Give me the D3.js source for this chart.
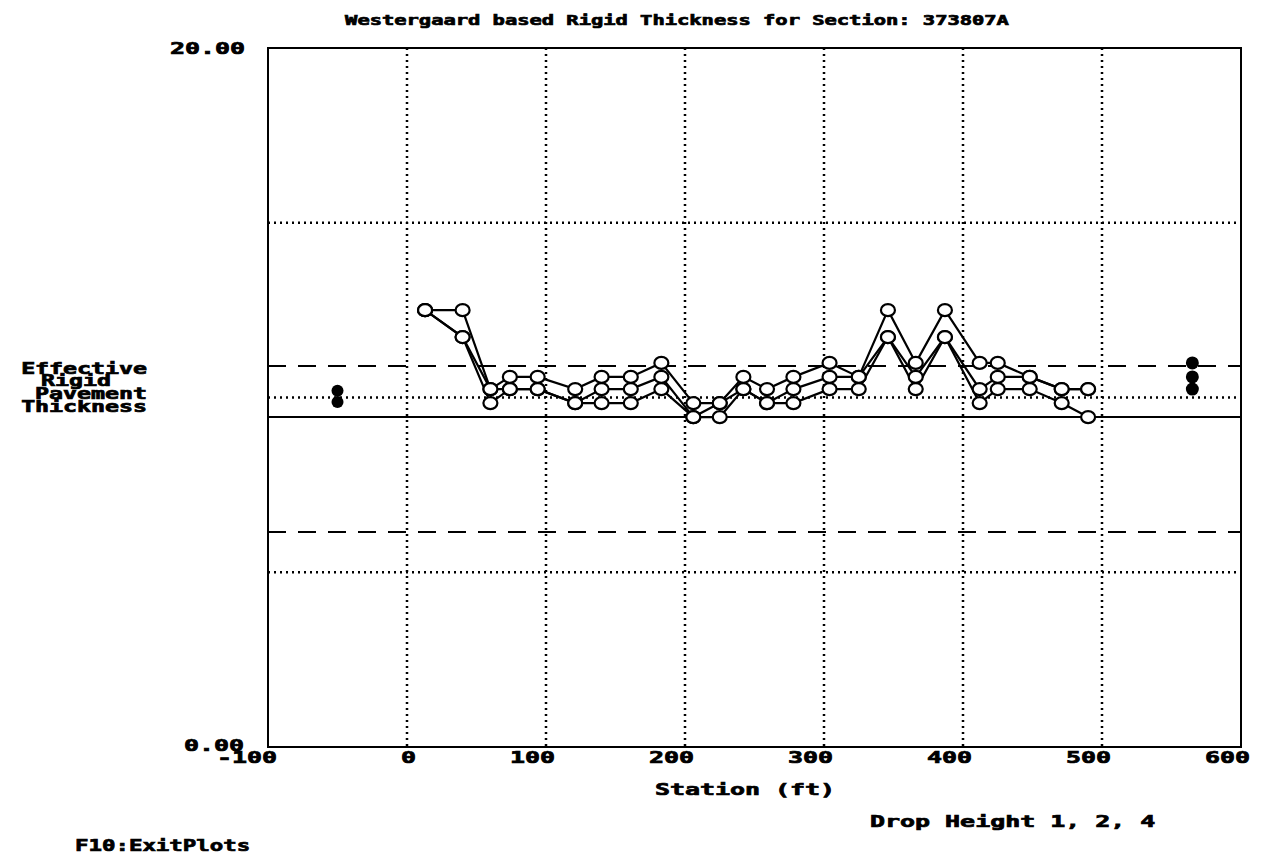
<!DOCTYPE html>
<html>
<head>
<meta charset="utf-8">
<script src="https://cdn.jsdelivr.net/npm/d3@7"></script>
<style>
  body { margin: 0; background: #fff; }
  text { font-family: "DejaVu Sans Mono", monospace; font-weight: bold; fill: #000; stroke: #000; stroke-width: 0.7px; }
</style>
</head>
<body>
<svg id="chart"></svg>
<script>
let svgWidth = 1268, svgHeight = 857

// stations in ft, thickness in inches (one array per drop height)
let stations = [13, 40, 60, 74, 94, 121, 140, 161, 183, 206, 225, 242, 259, 278, 304, 325, 346, 366, 387, 412, 425, 448, 471, 490]
let drop1 = [12.50, 12.50, 10.24, 10.59, 10.59, 10.24, 10.59, 10.59, 10.99, 9.84, 9.84, 10.59, 10.24, 10.59, 10.99, 10.59, 12.50, 10.99, 12.50, 10.99, 10.99, 10.59, 10.24, 10.24]
let drop2 = [12.50, 11.73, 10.24, 10.24, 10.24, 9.84, 10.24, 10.24, 10.59, 9.44, 9.84, 10.24, 9.84, 10.24, 10.59, 10.59, 11.73, 10.59, 11.73, 10.24, 10.59, 10.59, 10.24, 10.24]
let drop4 = [12.50, 11.73, 9.84, 10.24, 10.24, 9.84, 9.84, 9.84, 10.24, 9.44, 9.44, 10.24, 9.84, 9.84, 10.24, 10.24, 11.73, 10.24, 11.73, 9.84, 10.24, 10.24, 9.84, 9.44]

// summary markers drawn outside the data range
let leftStation = -50, leftValues = [10.19, 9.87]
let rightStation = 565, rightValues = [10.99, 10.59, 10.24]

let xTicks = [-100, 0, 100, 200, 300, 400, 500, 600]
let xGrid = [0, 100, 200, 300, 400, 500]
let yGrid = [5, 10, 15]
let solidValue = 9.44
let dashedValues = [10.9, 6.15]

let svg = d3.select('#chart').attr('width', svgWidth).attr('height', svgHeight)

let x = d3.scaleLinear().domain([-100, 600]).range([268, 1241])
let y = d3.scaleLinear().domain([0, 20]).range([747, 48])

// stretched bold mono text to mimic the old bitmap font
function label(px, py, str, anchor, size, sx){
  svg.append('text')
    .attr('transform', `translate(${px},${py}) scale(${sx},1)`)
    .attr('text-anchor', anchor)
    .style('font-size', size + 'px')
    .text(str)
}

let g = svg.append('g')

// dotted grid
g.selectAll('.vgrid').data(xGrid).enter().append('line')
  .attr('x1', d => x(d)).attr('x2', d => x(d))
  .attr('y1', y(20)).attr('y2', y(0))
  .attr('stroke', '#000').attr('stroke-width', 2.5).attr('stroke-dasharray', '2,4')
g.selectAll('.hgrid').data(yGrid).enter().append('line')
  .attr('x1', x(-100)).attr('x2', x(600))
  .attr('y1', d => y(d)).attr('y2', d => y(d))
  .attr('stroke', '#000').attr('stroke-width', 2.5).attr('stroke-dasharray', '2,4')

// reference lines
g.selectAll('.dash').data(dashedValues).enter().append('line')
  .attr('x1', x(-100)).attr('x2', x(600))
  .attr('y1', d => y(d)).attr('y2', d => y(d))
  .attr('stroke', '#000').attr('stroke-width', 2).attr('stroke-dasharray', '18,12')
g.append('line')
  .attr('x1', x(-100)).attr('x2', x(600))
  .attr('y1', y(solidValue)).attr('y2', y(solidValue))
  .attr('stroke', '#000').attr('stroke-width', 2)

// frame
g.append('rect')
  .attr('x', x(-100)).attr('y', y(20))
  .attr('width', x(600) - x(-100)).attr('height', y(0) - y(20))
  .attr('fill', 'none').attr('stroke', '#000').attr('stroke-width', 2)

// series
let series = [drop1, drop2, drop4]
let line = d3.line().x(d => x(d[0])).y(d => y(d[1]))
series.forEach(s => {
  let pts = stations.map((st, i) => [st, s[i]])
  g.append('path').datum(pts).attr('d', line)
    .attr('fill', 'none').attr('stroke', '#000').attr('stroke-width', 2.2)
})
series.forEach(s => {
  let pts = stations.map((st, i) => [st, s[i]])
  g.selectAll(null).data(pts).enter().append('ellipse')
    .attr('cx', d => x(d[0])).attr('cy', d => y(d[1]))
    .attr('rx', 7).attr('ry', 6)
    .attr('fill', '#fff').attr('stroke', '#000').attr('stroke-width', 2.2)
})

// filled summary dots
g.selectAll('.ldot').data(leftValues).enter().append('circle')
  .attr('cx', x(leftStation)).attr('cy', d => y(d)).attr('r', 6).attr('fill', '#000')
g.selectAll('.rdot').data(rightValues).enter().append('circle')
  .attr('cx', x(rightStation)).attr('cy', d => y(d)).attr('r', 6.5).attr('fill', '#000')

// texts
label(677, 25, 'Westergaard based Rigid Thickness for Section: 373807A', 'middle', 14, 1.46)
label(245, 54, '20.00', 'end', 16, 1.56)
label(244, 751, '0.00', 'end', 16, 1.56)
xTicks.forEach(t => label(x(t) + 9, 763, t, 'end', 16, 1.56))
label(745, 795, 'Station (ft)', 'middle', 16, 1.56)
label(870, 827, 'Drop Height 1, 2, 4', 'start', 16, 1.56)
label(75, 851, 'F10:ExitPlots', 'start', 16, 1.4)

label(147, 374, 'Effective', 'end', 15, 1.55)
label(76, 386, 'Rigid', 'middle', 15, 1.55)
label(147, 399, 'Pavement', 'end', 15, 1.55)
label(147, 412, 'Thickness', 'end', 15, 1.55)
</script>
</body>
</html>
